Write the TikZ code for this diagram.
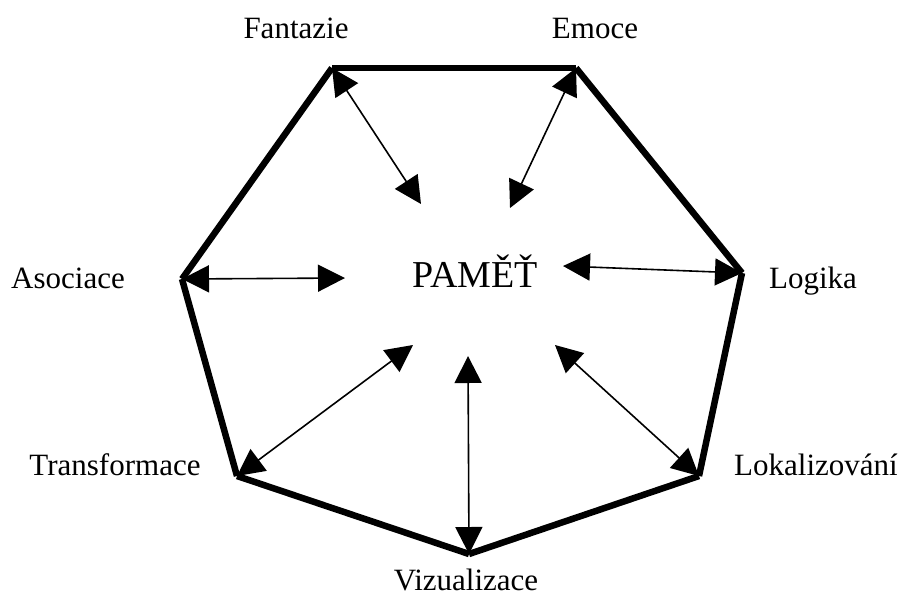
\documentclass[tikz,border=0pt]{standalone}
\usepackage{fontspec}
\setmainfont{Liberation Serif}
\usetikzlibrary{arrows.meta}
\begin{document}
\begin{tikzpicture}[x=1pt,y=-1pt,
  edge/.style={line width=6.5pt,line cap=butt},
  link/.style={line width=1.6pt,{Triangle[length=27pt,width=27pt]}-{Triangle[length=27pt,width=27pt]}},
  lbl/.style={anchor=base,inner sep=0pt,font=\fontsize{31}{36}\selectfont}]
\useasboundingbox (0,0) rectangle (902,598);
% vertices
\coordinate (vF) at (332,68);
\coordinate (vE) at (576,68);
\coordinate (vL) at (742,273);
\coordinate (vK) at (699,476);
\coordinate (vV) at (469,554);
\coordinate (vT) at (237,476);
\coordinate (vA) at (182,279);
% inner ends
\coordinate (iF) at (421,204);
\coordinate (iE) at (510,208);
\coordinate (iA) at (345,278);
\coordinate (iL) at (563,266);
\coordinate (iT) at (413,345);
\coordinate (iV) at (468,356);
\coordinate (iK) at (555,345);
% polygon
\draw[edge] (vF) -- (vE);
\draw[edge] (vE) -- (vL);
\draw[edge] (vL) -- (vK);
\draw[edge] (vK) -- (vV);
\draw[edge] (vV) -- (vT);
\draw[edge] (vT) -- (vA);
\draw[edge] (vA) -- (vF);
% arrows
\draw[link] (vF) -- (iF);
\draw[link] (vE) -- (iE);
\draw[link] (vA) -- (iA);
\draw[link] (vL) -- (iL);
\draw[link] (vT) -- (iT);
\draw[link] (vV) -- (iV);
\draw[link] (vK) -- (iK);
% labels
\node[lbl,font=\fontsize{38}{44}\selectfont] (pamet) at (475,287) {PAMĚŤ};
\node[lbl] (fan) at (296,38) {Fantazie};
\node[lbl] (emo) at (595,38) {Emoce};
\node[lbl] (aso) at (68,288) {Asociace};
\node[lbl] (log) at (813,288) {Logika};
\node[lbl] (tra) at (115,475) {Transformace};
\node[lbl] (lok) at (816,475) {Lokalizování};
\node[lbl] (viz) at (466,590) {Vizualizace};
\end{tikzpicture}
\end{document}
